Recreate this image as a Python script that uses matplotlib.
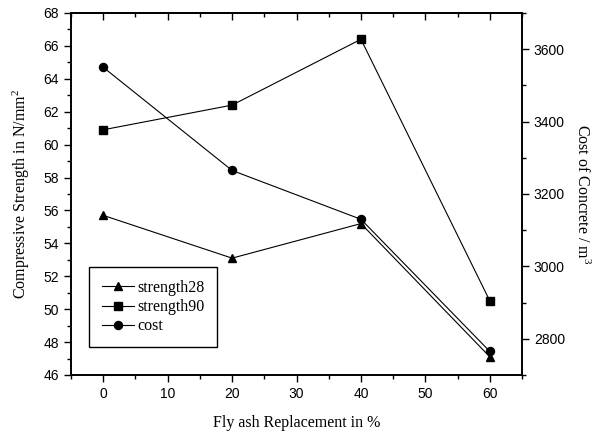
import matplotlib.pyplot as plt
from matplotlib.ticker import MultipleLocator
from matplotlib.lines import Line2D

# data
replacement = [0, 20, 40, 60]
strength28 = [55.7, 53.1, 55.2, 47.1]
strength90 = [60.9, 62.4, 66.4, 50.5]
cost = [3550, 3265, 3130, 2765]

plt.rcParams['font.family'] = 'Liberation Sans'
plt.rcParams['mathtext.fontset'] = 'custom'
plt.rcParams['mathtext.rm'] = 'Liberation Serif'
plt.rcParams['mathtext.it'] = 'Liberation Serif:italic'

serif = {'family': 'Liberation Serif', 'size': 11.5}

fig = plt.figure(figsize=(5.98, 4.32), dpi=100)
ax = fig.add_axes([0.1187, 0.132, 0.7543, 0.838])
ax2 = ax.twinx()

lw = 0.8
tri_ms, sq_ms, circ_ms = 6.2, 5.2, 5.8
ax.plot(replacement, strength28, color='k', lw=lw, marker='^', ms=tri_ms)
ax.plot(replacement, strength90, color='k', lw=lw, marker='s', ms=sq_ms)
ax2.plot(replacement, cost, color='k', lw=lw, marker='o', ms=circ_ms)

ax.set_xlim(-5, 65)
ax.set_ylim(46, 68)
ax2.set_ylim(2700, 3700)

ax.xaxis.set_major_locator(MultipleLocator(10))
ax.xaxis.set_minor_locator(MultipleLocator(5))
ax.yaxis.set_major_locator(MultipleLocator(2))
ax.yaxis.set_minor_locator(MultipleLocator(1))
ax2.yaxis.set_major_locator(MultipleLocator(200))
ax2.yaxis.set_minor_locator(MultipleLocator(100))

for a in (ax, ax2):
    for s in a.spines.values():
        s.set_linewidth(1.2)

ax.tick_params(axis='both', which='major', direction='out', length=5, width=1, labelsize=10)
ax.tick_params(axis='both', which='minor', direction='out', length=3, width=1)
ax.tick_params(axis='x', which='both', top=False)
ax2.tick_params(axis='y', which='major', direction='out', length=5, width=1, labelsize=10)
ax2.tick_params(axis='y', which='minor', direction='out', length=3, width=1)

# top ticks point inward like the original
sec = ax.secondary_xaxis('top')
sec.xaxis.set_major_locator(MultipleLocator(10))
sec.xaxis.set_minor_locator(MultipleLocator(5))
sec.tick_params(which='major', direction='in', length=5, width=1, labeltop=False)
sec.tick_params(which='minor', direction='in', length=3, width=1)
sec.spines['top'].set_linewidth(1.2)

ax.set_xlabel('Fly ash Replacement in %', fontdict=serif, labelpad=10)
ax.set_ylabel('Compressive Strength in N/mm$^2$', fontdict=serif, labelpad=8)
ax2.set_ylabel('Cost of Concrete / m$^3$', fontdict=serif, rotation=270, labelpad=18)

handles = [
    Line2D([], [], color='k', lw=lw, marker='^', ms=tri_ms),
    Line2D([], [], color='k', lw=lw, marker='s', ms=sq_ms),
    Line2D([], [], color='k', lw=lw, marker='o', ms=circ_ms),
]
leg = ax.legend(handles, ['strength28', 'strength90', 'cost'],
                loc='lower left', bbox_to_anchor=(0.04, 0.077), borderaxespad=0,
                prop={'family': 'Liberation Serif', 'size': 11.5},
                fancybox=False, edgecolor='k', framealpha=1,
                handlelength=2.0, handletextpad=0.2, borderpad=0.8,
                labelspacing=0.2)
leg.get_frame().set_linewidth(1.0)

fig.savefig('out.png', dpi=100)
